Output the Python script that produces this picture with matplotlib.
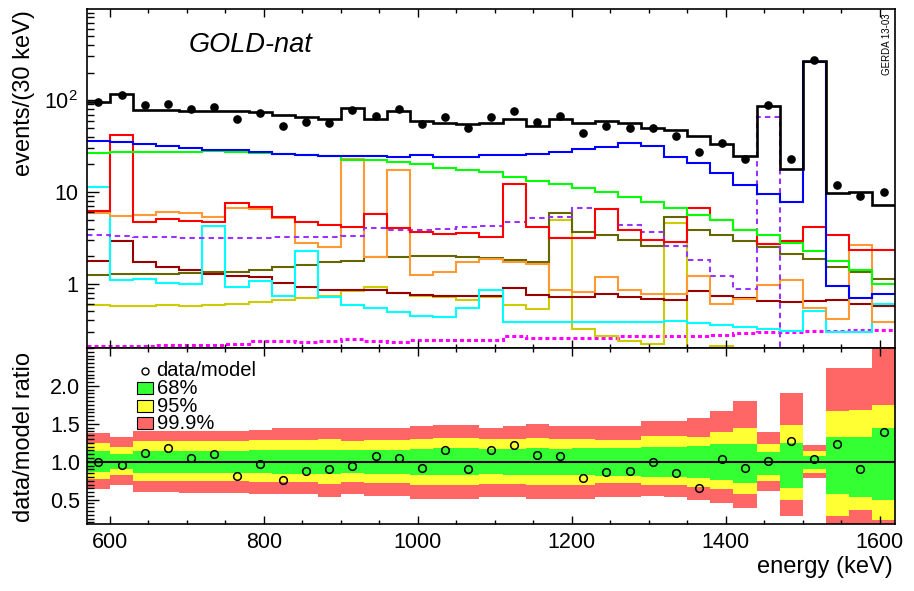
import numpy as np
import matplotlib.pyplot as plt
from matplotlib.ticker import FixedLocator, FixedFormatter, MultipleLocator, LogLocator, NullFormatter
from matplotlib.lines import Line2D
from matplotlib.patches import Rectangle

plt.rcParams['font.family'] = ['Liberation Sans', 'DejaVu Sans']
plt.rcParams['mathtext.fontset'] = 'custom'
plt.rcParams['mathtext.rm'] = 'Liberation Sans'
plt.rcParams['mathtext.it'] = 'Liberation Sans:italic'

# 30 keV bins, 570 - 1620 keV
edges = np.arange(570, 1621, 30)
centers = edges[:-1] + 15

# measured spectrum (events / 30 keV)
data = [96, 113, 88, 92, 81, 85, 63, 72, 52, 58, 57, 78, 68, 81, 55, 65, 50, 65,
        77, 58, 68, 44, 52, 50, 50, 41, 27, 34, 23, 88, 23, 277, 12, 9, 10]
# total model
model = [96, 118, 79, 78, 77, 77, 77, 74, 69, 66, 63, 83, 63, 77, 60, 56, 55, 56,
         63, 53, 63, 56, 60, 57, 50, 48, 41, 33, 25, 87, 18, 268, 9.7, 10, 7.2]

# model components
blue = [35.8, 34.7, 33.2, 31.6, 30.3, 28.8, 28.4, 27.0, 26.1, 25.5, 24.8, 24.8, 24.6, 24.2,
        25.3, 24.4, 24.4, 25.3, 25.3, 26.3, 27.4, 29.1, 31.1, 34.4, 31.6, 24.2, 20.5, 16.0,
        11.9, 9.5, 7.7, 261, 0.94, 0.70, 0.77]
green = [26.8, 27.0, 27.2, 27.4, 27.6, 27.9, 27.4, 26.8, 26.1, 25.5, 24.6, 22.6, 22.3, 21.4,
         20.2, 18.4, 17.3, 16.4, 14.7, 13.2, 12.2, 11.0, 9.9, 8.9, 7.85, 6.64, 5.62, 4.96,
         3.86, 3.41, 2.77, 2.30, 1.79, 1.40, 0.99]
red = [6.27, 41.6, 4.76, 5.09, 4.88, 4.68, 7.66, 6.93, 5.40, 4.68, 4.38, 4.20, 5.81, 4.03,
       3.71, 3.49, 3.61, 3.27, 12.1, 4.20, 3.13, 3.13, 6.48, 3.86, 3.01, 2.88, 6.76, 4.96,
       3.86, 2.72, 2.96, 4.13, 3.41, 2.34, 2.34]
orange = [5.87, 5.48, 5.62, 6.06, 5.87, 5.30, 6.64, 6.48, 5.17, 2.77, 2.50, 23.2, 1.98, 17.6,
          1.25, 1.34, 1.75, 1.85, 1.71, 1.65, 0.86, 0.82, 1.20, 0.86, 0.77, 0.77, 1.22, 0.61,
          0.68, 0.98, 1.10, 0.54, 0.41, 2.65, 0.38]
cyan = [11.4, 1.10, 1.12, 1.03, 1.00, 4.31, 0.92, 1.08, 0.73, 2.30, 0.71, 0.59, 0.54, 0.49,
        0.45, 0.43, 0.54, 0.86, 0.38, 0.38, 0.38, 0.38, 0.38, 0.38, 0.38, 0.39, 0.37, 0.36,
        0.335, 0.32, 0.31, 0.50, 0.30, 0.30, 0.60]
maroon = [1.79, 2.96, 1.71, 1.54, 1.40, 1.28, 1.22, 1.18, 1.03, 0.92, 0.86, 0.86, 0.85, 0.79,
          0.76, 0.74, 0.73, 0.73, 0.90, 0.76, 0.71, 0.71, 0.77, 0.71, 0.68, 0.67, 0.83, 0.74,
          0.70, 0.65, 0.64, 0.65, 0.67, 0.61, 0.58]
olive = [1.25, 1.28, 1.28, 1.29, 1.31, 1.33, 1.36, 1.42, 1.51, 1.61, 1.75, 1.78, 1.95, 1.98,
         2.02, 2.02, 1.98, 1.93, 1.82, 1.72, 5.87, 3.64, 3.41, 3.01, 2.59, 5.40, 3.86, 3.41,
         2.96, 2.50, 2.10, 1.85, 1.54, 1.33, 1.12]
yellow = [0.59, 0.57, 0.58, 0.59, 0.58, 0.59, 0.61, 0.64, 0.67, 0.70, 0.73, 0.83, 0.92, 0.79,
          0.74, 0.71, 0.66, 0.71, 0.59, 0.53, 4.96, 0.32, 0.27, 0.236, 0.22, 4.56, 0.15, 0.208,
          0.15, 0.15, 0.15, 0.15, 0.14, 0.13, 0.12]
purple = [3.41, 3.32, 3.27, 3.21, 3.13, 3.13, 3.19, 3.19, 3.21, 3.21, 3.27, 3.35, 4.03, 3.86,
          3.86, 3.93, 4.13, 4.27, 4.76, 5.17, 5.40, 6.76, 6.48, 4.38, 3.71, 2.61, 1.82, 1.22,
          0.88, 65.9, 0.01, 0.01, 0.01, 0.01, 0.01]
magenta = [0.208, 0.208, 0.208, 0.213, 0.217, 0.217, 0.223, 0.236, 0.236, 0.232, 0.236, 0.25,
           0.236, 0.23, 0.246, 0.246, 0.246, 0.246, 0.272, 0.257, 0.257, 0.257, 0.257, 0.268,
           0.272, 0.272, 0.272, 0.279, 0.291, 0.296, 0.298, 0.303, 0.308, 0.311, 0.316]

# confidence bands for data/model
r999_hi = [1.38, 1.33, 1.41, 1.41, 1.41, 1.41, 1.41, 1.425, 1.44, 1.44, 1.45, 1.44, 1.44, 1.44,
           1.47, 1.49, 1.49, 1.45, 1.47, 1.50, 1.47, 1.47, 1.47, 1.47, 1.535, 1.535, 1.58, 1.67,
           1.80, 1.39, 1.91, 1.22, 2.24, 2.24, 2.60]
r95_hi = [1.25, 1.20, 1.27, 1.27, 1.28, 1.28, 1.28, 1.29, 1.29, 1.29, 1.30, 1.28, 1.29, 1.29,
          1.30, 1.31, 1.31, 1.30, 1.30, 1.31, 1.30, 1.30, 1.285, 1.285, 1.34, 1.34, 1.33, 1.39,
          1.44, 1.24, 1.49, 1.14, 1.67, 1.68, 1.75]
r68_hi = [1.14, 1.10, 1.145, 1.145, 1.145, 1.145, 1.145, 1.15, 1.155, 1.155, 1.16, 1.15, 1.16,
          1.16, 1.17, 1.175, 1.175, 1.165, 1.17, 1.18, 1.17, 1.175, 1.175, 1.175, 1.20, 1.20,
          1.21, 1.23, 1.23, 1.13, 1.25, 1.075, 1.32, 1.32, 1.45]
r68_lo = [0.86, 0.90, 0.855, 0.855, 0.85, 0.85, 0.85, 0.85, 0.845, 0.845, 0.84, 0.85, 0.84,
          0.84, 0.83, 0.825, 0.825, 0.835, 0.83, 0.82, 0.83, 0.82, 0.815, 0.815, 0.80, 0.80,
          0.78, 0.76, 0.72, 0.83, 0.65, 0.91, 0.58, 0.54, 0.50]
r95_lo = [0.77, 0.825, 0.74, 0.74, 0.74, 0.74, 0.74, 0.73, 0.73, 0.73, 0.71, 0.73, 0.72, 0.72,
          0.70, 0.70, 0.70, 0.71, 0.71, 0.70, 0.70, 0.70, 0.715, 0.715, 0.69, 0.69, 0.67, 0.64,
          0.58, 0.74, 0.50, 0.855, 0.285, 0.36, 0.23]
r999_lo = [0.645, 0.69, 0.60, 0.60, 0.59, 0.59, 0.59, 0.58, 0.58, 0.58, 0.54, 0.58, 0.55, 0.55,
           0.51, 0.51, 0.51, 0.53, 0.53, 0.51, 0.51, 0.51, 0.54, 0.54, 0.55, 0.53, 0.50, 0.45,
           0.385, 0.62, 0.28, 0.79, 0.0, 0.0, 0.0]

ratio = np.array(data) / np.array(model)

c_red, c_yel, c_grn = '#ff6666', '#ffff33', '#33ff33'

fig = plt.figure(figsize=(9.14, 5.91), dpi=100)
ax = fig.add_axes([0.0951, 0.4112, 0.8842, 0.5744])
axr = fig.add_axes([0.0951, 0.1134, 0.8842, 0.2978], sharex=ax)

# upper panel: spectrum and model components
comps = [
    (magenta, '#ff00ff', (0, (1.3, 1.0)), 2.2),
    (yellow, '#cccc00', '-', 1.5),
    (olive, '#666600', '-', 1.5),
    (maroon, '#990000', '-', 1.5),
    (cyan, '#00ffff', '-', 1.5),
    (orange, '#ff9933', '-', 1.5),
    (purple, '#9933ff', (0, (2.6, 2.0)), 1.5),
    (red, '#ff0000', '-', 1.5),
    (green, '#00ff00', '-', 1.5),
    (blue, '#0000ff', '-', 1.5),
]
for vals, col, ls, lw in comps:
    ax.stairs(vals, edges, baseline=None, color=col, ls=ls, lw=lw)
ax.stairs(model, edges, baseline=None, color='k', lw=1.9)
ax.plot(centers, data, 'o', color='k', ms=5.2)

ax.set_yscale('log')
ax.set_ylim(0.2, 1000)
ax.set_xlim(570, 1620)
ax.yaxis.set_major_locator(FixedLocator([1, 10, 100]))
ax.yaxis.set_major_formatter(FixedFormatter(['1', '10', '$10^{2}$']))
ax.yaxis.set_minor_locator(LogLocator(subs=np.arange(2, 10), numticks=20))
ax.yaxis.set_minor_formatter(NullFormatter())

ax.text(0.126, 0.893, 'GOLD-nat', transform=ax.transAxes, fontsize=19.5,
        style='italic', va='center', ha='left')
ax.text(0.990, 0.987, 'GERDA 13-03', transform=ax.transAxes, fontsize=7,
        rotation=90, va='top', ha='center')

# lower panel: data/model ratio with bands
axr.stairs(r999_hi, edges, baseline=r999_lo, fill=True, color=c_red, lw=0)
axr.stairs(r95_hi, edges, baseline=r95_lo, fill=True, color=c_yel, lw=0)
axr.stairs(r68_hi, edges, baseline=r68_lo, fill=True, color=c_grn, lw=0)
axr.axhline(1.0, color='k', lw=1.5)
axr.plot(centers, ratio, 'o', mfc='none', mec='k', mew=1.1, ms=5.5)
axr.set_ylim(0.18, 2.5)
axr.yaxis.set_major_locator(FixedLocator([0.5, 1.0, 1.5, 2.0]))
axr.yaxis.set_major_formatter(FixedFormatter(['0.5', '1.0', '1.5', '2.0']))
axr.yaxis.set_minor_locator(MultipleLocator(0.05))
axr.xaxis.set_major_locator(MultipleLocator(200))
axr.xaxis.set_minor_locator(MultipleLocator(50))

# legend of the ratio panel
axr.plot([0.072], [0.870], 'o', mfc='none', mec='k', mew=1.0, ms=5,
         transform=axr.transAxes)
leg_labels = ['data/model', '68%', '95%', '99.9%']
leg_y = [0.870, 0.767, 0.668, 0.569]
for col, y0 in zip([c_grn, c_yel, c_red], [0.739, 0.637, 0.541]):
    axr.add_patch(Rectangle((0.062, y0), 0.0198, 0.068, transform=axr.transAxes,
                            fc=col, ec='k', lw=0.8))
for lab, y in zip(leg_labels, leg_y):
    axr.text(0.0861, y, lab, transform=axr.transAxes, fontsize=14.5,
             ha='left', va='center')

for a in (ax, axr):
    a.tick_params(which='both', direction='in', top=True, labelsize=15.5, width=1)
    a.tick_params(axis='x', which='major', length=5.8, pad=5.5)
    a.tick_params(axis='x', which='minor', length=2.9)
    a.tick_params(axis='y', which='major', length=8.6, pad=6.5)
    a.tick_params(axis='y', which='minor', length=5)
    for s in a.spines.values():
        s.set_linewidth(1.2)
ax.tick_params(labelbottom=False)
axr.tick_params(axis='y', pad=5)

fig.text(24 / 914, 1 - 10 / 591, 'events/(30 keV)', rotation=90, fontsize=17,
         ha='center', va='top')
fig.text(24 / 914, 1 - 352 / 591, 'data/model ratio', rotation=90, fontsize=17,
         ha='center', va='top')
fig.text(893 / 914, 1 - 567 / 591, 'energy (keV)', fontsize=17, ha='right', va='center')

fig.savefig('out.png', dpi=100)
